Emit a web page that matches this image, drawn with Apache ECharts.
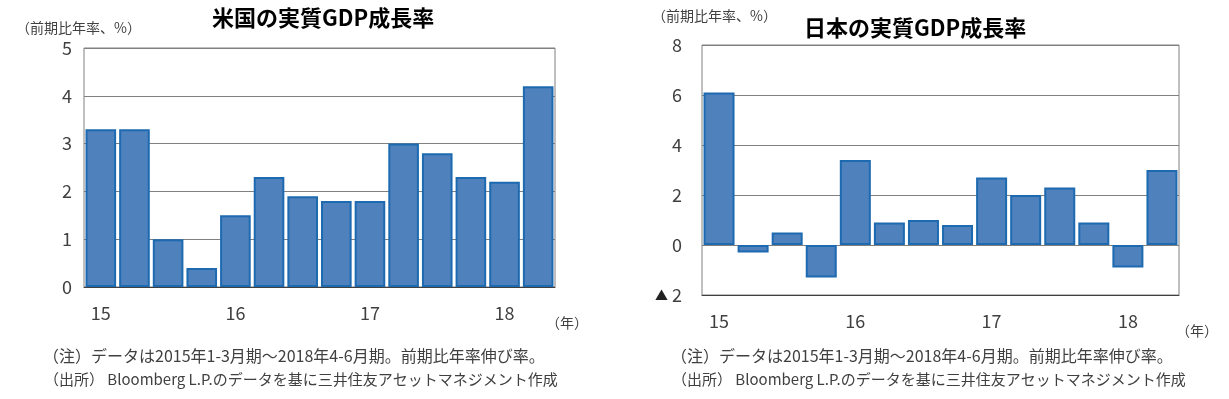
<!DOCTYPE html>
<html>
<head>
<meta charset="utf-8">
<script src="https://cdn.jsdelivr.net/npm/echarts@6/dist/echarts.min.js"></script>
<style>
  html, body { margin: 0; padding: 0; background: #fff; }
  #main { width: 1229px; height: 399px; }
</style>
</head>
<body>
<div id="main"></div>
<script>
// 四半期（2015年1-3月期～2018年4-6月期）
var quarters = ['15', '', '', '', '16', '', '', '', '17', '', '', '', '18', ''];
// 米国 実質GDP 前期比年率 %
var usValues = [3.3, 3.3, 1.0, 0.4, 1.5, 2.3, 1.9, 1.8, 1.8, 3.0, 2.8, 2.3, 2.2, 4.2];
// 日本 実質GDP 前期比年率 %
var jpValues = [6.1, -0.3, 0.5, -1.3, 3.4, 0.9, 1.0, 0.8, 2.7, 2.0, 2.3, 0.9, -0.9, 3.0];
// 縦軸目盛 [min, max, interval]
var usTicks = [0, 5, 1];
var jpTicks = [-2, 8, 2];

var usTitle = '米国の実質GDP成長率';
var jpTitle = '日本の実質GDP成長率';
var unitLabel = '（前期比年率、%）';
var yearLabel = '（年）';
var note1 = '（注）データは2015年1-3月期～2018年4-6月期。前期比年率伸び率。';
var note2 = '（出所） Bloomberg L.P.のデータを基に三井住友アセットマネジメント作成';

var FONT = '"Noto Sans CJK JP", "Noto Sans", sans-serif';
var TXT = '#404040';
var BAR_FILL = '#4F81BD';
var BAR_LINE = '#1D6AB0';

function xAxisOf(gridIndex) {
  return {
    type: 'category',
    gridIndex: gridIndex,
    data: quarters,
    axisTick: { show: false },
    axisLine: { show: true, onZero: false, lineStyle: { color: '#404040', width: 1 } },
    axisLabel: {
      interval: 0,
      color: TXT,
      fontFamily: FONT,
      fontSize: 18,
      margin: 17,
      hideOverlap: false
    }
  };
}

function yAxisOf(gridIndex, t, margin) {
  return {
    type: 'value',
    gridIndex: gridIndex,
    min: t[0],
    max: t[1],
    interval: t[2],
    axisLine: { show: false },
    axisTick: { show: false },
    splitLine: { lineStyle: { color: '#808080', width: 1 } },
    axisLabel: {
      color: TXT,
      fontFamily: FONT,
      fontSize: 18,
      margin: margin,
      formatter: function (v) {
        // マイナスは▲表示
        return v < 0 ? '{m|▲} ' + Math.abs(v) : String(v);
      },
      rich: {
        m: { fontSize: 13, color: '#222', fontFamily: FONT }
      }
    }
  };
}

function barOf(idx, values) {
  return {
    type: 'bar',
    xAxisIndex: idx,
    yAxisIndex: idx,
    data: values,
    barCategoryGap: '9%',
    silent: true,
    itemStyle: {
      color: BAR_FILL,
      borderColor: BAR_LINE,
      borderWidth: 2
    }
  };
}

function txt(x, y, s, opts) {
  var st = {
    text: s,
    fill: TXT,
    font: '14px ' + FONT
  };
  for (var k in opts) st[k] = opts[k];
  return { type: 'text', left: x, top: y, style: st };
}

var myChart = echarts.init(document.getElementById('main'));
var option = {
  animation: false,
  backgroundColor: '#fff',
  grid: [
    { left: 84, right: 674, top: 48, bottom: 112, show: true, borderColor: '#808080', borderWidth: 1 },
    { left: 702, right: 50, top: 45, bottom: 104, show: true, borderColor: '#808080', borderWidth: 1 }
  ],
  xAxis: [xAxisOf(0), xAxisOf(1)],
  yAxis: [yAxisOf(0, usTicks, 12), yAxisOf(1, jpTicks, 20)],
  series: [barOf(0, usValues), barOf(1, jpValues)],
  graphic: [
    txt(212, 7, usTitle, { fill: '#000', font: 'bold 22px ' + FONT }),
    txt(804, 17, jpTitle, { fill: '#000', font: 'bold 22px ' + FONT }),
    txt(16, 21, unitLabel),
    txt(652, 9, unitLabel),
    txt(546, 316, yearLabel),
    txt(1176, 324, yearLabel),
    txt(43, 348, note1, { font: '16px ' + FONT }),
    txt(44, 372, note2, { font: '15px ' + FONT }),
    txt(671, 348, note1, { font: '16px ' + FONT }),
    txt(672, 372, note2, { font: '15px ' + FONT })
  ]
};
myChart.setOption(option);
</script>
</body>
</html>
